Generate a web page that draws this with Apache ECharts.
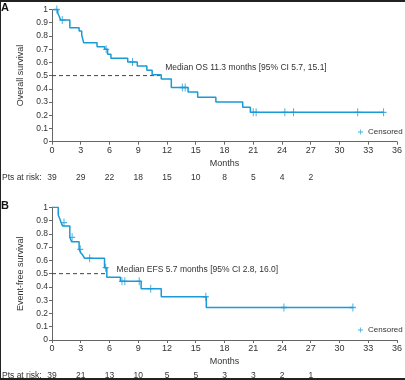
<!DOCTYPE html>
<html><head><meta charset="utf-8">
<script src="https://cdn.jsdelivr.net/npm/echarts@6/dist/echarts.min.js"></script>
<style>html,body{margin:0;padding:0;background:#fff}#c{width:405px;height:380px}</style>
</head><body><div id="c"></div>
<script>
// ---- Data ----
const xTicks = [0,3,6,9,12,15,18,21,24,27,30,33,36];
// Panel A: overall survival (event times, survival after event)
const osTimes = [0, 0.6, 0.75, 0.9, 1.86, 2.83, 3.1, 3.3, 4.7, 5.5, 5.8, 6.15, 7.9, 8.9, 9.9, 10.45, 11.4, 12.45, 14.2, 15.2, 17.1, 19.9, 20.7, 34.6];
const osSurv  = [1, 0.974, 0.949, 0.92, 0.862, 0.837, 0.807, 0.749, 0.719, 0.699, 0.661, 0.631, 0.603, 0.573, 0.54, 0.507, 0.474, 0.41, 0.376, 0.336, 0.30, 0.26, 0.222, 0.222];
const osCensT = [0.5, 1.07, 5.65, 8.4, 13.6, 13.9, 21.0, 21.3, 24.3, 25.2, 31.9, 34.6];
const osCensS = [1, 0.92, 0.699, 0.603, 0.41, 0.41, 0.222, 0.222, 0.222, 0.222, 0.222, 0.222];
const osRisk = [39, 29, 22, 18, 15, 10, 8, 5, 4, 2];
const osMedian = 11.3;
const osText = 'Median OS 11.3 months [95% CI 5.7, 15.1]';
// Panel B: event-free survival
const efsTimes = [0, 0.65, 0.8, 0.95, 1.1, 1.86, 2.05, 2.83, 3.0, 3.2, 3.4, 5.48, 5.72, 7.14, 9.3, 11.4, 16.1, 31.4];
const efsSurv  = [1, 0.942, 0.915, 0.885, 0.86, 0.774, 0.74, 0.683, 0.658, 0.64, 0.616, 0.545, 0.472, 0.442, 0.387, 0.326, 0.245, 0.245];
const efsCensT = [1.25, 2.1, 2.95, 3.93, 5.6, 7.3, 7.6, 9.1, 10.3, 16.05, 24.2, 31.4];
const efsCensS = [0.885, 0.774, 0.683, 0.616, 0.545, 0.442, 0.442, 0.442, 0.387, 0.326, 0.245, 0.245];
const efsRisk = [39, 21, 13, 10, 5, 5, 3, 3, 2, 1];
const efsMedian = 5.7;
const efsText = 'Median EFS 5.7 months [95% CI 2.8, 16.0]';

// ---- Chart ----
const BLUE = '#1a9ad6';
const FONT = '"Liberation Sans", Arial, sans-serif';
const PLUS = 'path://M4.2,0H5.8V4.2H10V5.8H5.8V10H4.2V5.8H0V4.2H4.2Z';
const zip = (a, b) => a.map((v, i) => [v, b[i]]);

function xAx(gi) {
  return { gridIndex: gi, type: 'value', min: 0, max: 36, interval: 3,
    name: 'Months', nameLocation: 'middle', nameGap: 17,
    nameTextStyle: { fontSize: 9, color: '#333', fontFamily: FONT },
    axisLine: { lineStyle: { color: '#666', width: 1 } },
    axisTick: { length: 3, lineStyle: { color: '#666' } },
    splitLine: { show: false },
    axisLabel: { fontSize: 9, color: '#333', margin: 4, fontFamily: FONT } };
}
function riskAx(gi, risk) {
  return { gridIndex: gi, type: 'value', min: 0, max: 36, interval: 3, position: 'bottom', offset: 28,
    axisLine: { show: false }, axisTick: { show: false }, splitLine: { show: false },
    axisLabel: { fontSize: 8.5, color: '#333', margin: 3, fontFamily: FONT,
      formatter: v => { const i = Math.round(v / 3); return i < risk.length ? String(risk[i]) : ''; } } };
}
function yAx(gi, name) {
  return { gridIndex: gi, type: 'value', min: 0, max: 1, interval: 0.1,
    name: name, nameLocation: 'middle', nameGap: 27, nameRotate: 90,
    nameTextStyle: { fontSize: 9, color: '#333', fontFamily: FONT },
    axisLine: { show: true, lineStyle: { color: '#666', width: 1 } },
    axisTick: { show: true, length: 3, lineStyle: { color: '#666' } },
    splitLine: { show: false },
    axisLabel: { fontSize: 8.5, color: '#333', margin: 4, fontFamily: FONT,
      formatter: v => String(Math.round(v * 10) / 10) } };
}
function panel(gi, times, surv, censT, censS, median, text, lblOffset) {
  return [
    { type: 'line', xAxisIndex: gi * 2, yAxisIndex: gi, step: 'end', showSymbol: false, silent: true,
      data: zip(times, surv), lineStyle: { color: BLUE, width: 1.5 }, itemStyle: { color: BLUE }, z: 3 },
    { type: 'scatter', name: 'Censored', xAxisIndex: gi * 2, yAxisIndex: gi, symbol: PLUS, symbolSize: [6, 8],
      data: zip(censT, censS), itemStyle: { color: BLUE }, z: 4 },
    { type: 'line', xAxisIndex: gi * 2, yAxisIndex: gi, showSymbol: false, silent: true,
      data: [[0, 0.5], [median, 0.5]], lineStyle: { color: '#444', width: 1, type: [4, 3] },
      itemStyle: { color: '#444' },
      endLabel: { show: true, formatter: () => text, offset: lblOffset, fontSize: 8.5, color: '#333', fontFamily: FONT }, z: 2 }
  ];
}

const chart = echarts.init(document.getElementById('c'), null, { renderer: 'canvas' });
const legendCommon = { itemWidth: 5, itemHeight: 5, itemGap: 4, icon: PLUS, data: ['Censored'], padding: 0,
  textStyle: { fontSize: 8, color: '#333', fontFamily: FONT } };
chart.setOption({
  animation: false,
  backgroundColor: '#fff',
  grid: [
    { left: 52, top: 9.5, width: 349, height: 132.2 },
    { left: 52, top: 207.3, width: 349, height: 132.7 }
  ],
  xAxis: [xAx(0), riskAx(0, osRisk), xAx(1), riskAx(1, efsRisk)],
  yAxis: [yAx(0, 'Overall survival'), yAx(1, 'Event-free survival')],
  legend: [
    Object.assign({ left: 358, top: 128 }, legendCommon),
    Object.assign({ left: 358, top: 326 }, legendCommon)
  ],
  series: [].concat(
    panel(0, osTimes, osSurv, osCensT, osCensS, osMedian, osText, [-3, -8]),
    panel(1, efsTimes, efsSurv, efsCensT, efsCensS, efsMedian, efsText, [2, -4])
  ),
  graphic: [
    { type: 'rect', shape: { x: 0, y: 0, width: 405, height: 2 }, style: { fill: '#222' }, silent: true },
    { type: 'rect', shape: { x: 0, y: 378, width: 405, height: 2 }, style: { fill: '#222' }, silent: true },
    { type: 'rect', shape: { x: 0, y: 0, width: 1, height: 380 }, style: { fill: '#222' }, silent: true },
    { type: 'text', left: 1, top: 2, style: { text: 'A', fontSize: 11, fontWeight: 'bold', fill: '#111', fontFamily: FONT } },
    { type: 'text', left: 1, top: 200, style: { text: 'B', fontSize: 11, fontWeight: 'bold', fill: '#111', fontFamily: FONT } },
    { type: 'text', left: 2, top: 173, style: { text: 'Pts at risk:', fontSize: 8.5, fill: '#333', fontFamily: FONT } },
    { type: 'text', left: 2, top: 371, style: { text: 'Pts at risk:', fontSize: 8.5, fill: '#333', fontFamily: FONT } }
  ]
});
</script></body></html>
